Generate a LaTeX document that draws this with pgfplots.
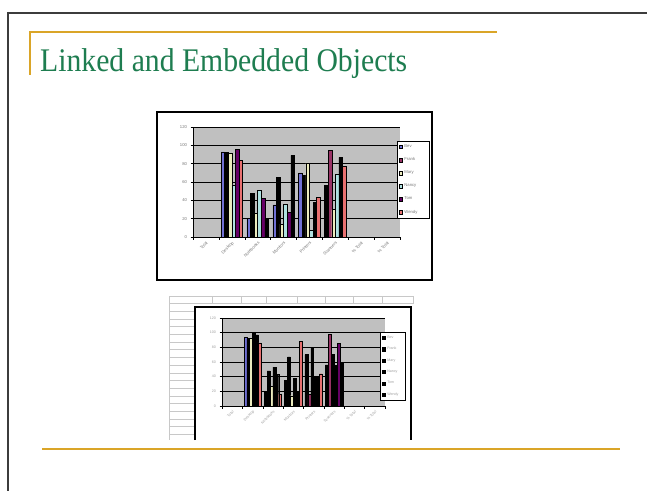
\documentclass[border=0pt]{standalone}
\usepackage{pgfplots}
\pgfplotsset{compat=1.18}
\usepackage{fontspec}
\setmainfont{Liberation Sans}
\newfontfamily\titlefont{Liberation Serif}
\definecolor{plotgray}{RGB}{192,192,192}
\definecolor{cBev}{RGB}{112,112,212}
\definecolor{cFrank}{RGB}{153,51,102}
\definecolor{cMary}{RGB}{236,236,190}
\definecolor{cNancy}{RGB}{175,225,225}
\definecolor{cTom}{RGB}{102,0,102}
\definecolor{cWendy}{RGB}{232,112,112}
\definecolor{titlegreen}{RGB}{30,125,80}
\definecolor{gold}{RGB}{218,165,40}
\definecolor{slideborder}{RGB}{60,60,60}
\definecolor{sheetgrid}{RGB}{200,200,200}
\definecolor{labgray}{RGB}{120,120,120}
\pgfplotsset{
  lg/.style={legend image code/.code={\draw[fill=#1,draw=black,line width=0.4pt] (0pt,-1.6pt) rectangle (3.2pt,1.6pt);}},
  P/.style 2 args={forget plot, bar shift=#1, fill=#2, draw=black, line width=0.4pt},
  excel/.style={
    ybar, scale only axis,
    xmin=-0.5, xmax=7.5, ymin=0, ymax=120,
    axis background/.style={fill=plotgray},
    axis x line*=bottom, axis y line*=left,
    axis line style={-, black, line width=0.8pt},
    ytick={0,20,...,120}, ymajorgrids,
    grid style={black, line width=0.6pt},
    xtick={-0.5,0.5,...,7.5},
    xticklabels={Total,Desktop,Notebooks,Monitors,Printers,Scanners,\% Total,\% Total,{}},
    tick align=outside, major tick length=2.5pt,
    tick style={black, line width=0.5pt},
    /pgf/number format/assume math mode=true,
    legend cell align=left,
  },
}
\newcommand{\LT}[1]{\makebox[22pt][l]{#1}}
\newcommand{\LB}[1]{\makebox[15pt][l]{#1}}
\begin{document}
\begin{tikzpicture}
\path[use as bounding box, fill=white] (0pt,0pt) rectangle (647pt,491pt);
% slide frame
\draw[slideborder, line width=2pt] (7pt,478pt) -- (647pt,478pt);
\draw[slideborder, line width=2pt] (8pt,479pt) -- (8pt,0pt);
% title decorations
\draw[gold, line width=1.3pt] (30pt,459pt) -- (497pt,459pt);
\draw[gold, line width=1.3pt] (30pt,459.6pt) -- (30pt,416pt);
\node[anchor=base west, inner sep=0pt, text=titlegreen] at (40pt,419pt)
  {\scalebox{0.9}[1]{\titlefont\fontsize{33}{36}\selectfont Linked and Embedded Objects}};
\draw[gold, line width=1.3pt] (42pt,42pt) -- (620pt,42pt);

% top chart frame
\draw[black, line width=1.2pt, fill=white] (157pt,211pt) rectangle (432pt,379pt);
\begin{axis}[excel, at={(193pt,254pt)}, anchor=south west, width=207pt, height=110pt, bar width=3.6pt,
  x tick label style={font=\fontsize{4.2}{4.5}\selectfont, text=labgray, xshift=12.9pt, rotate=45, anchor=north east, inner sep=1pt},
  y tick label style={font=\fontsize{4.2}{4.5}\selectfont, text=labgray},
  legend style={at={(0.985,0.873)}, anchor=north west, draw=black, line width=0.8pt, fill=white,
    font=\fontsize{4.2}{4.5}\selectfont, text=labgray, inner sep=1.5pt, row sep=4.6pt},
]
% Bev
\addplot[P={-9pt}{cBev}] coordinates {(1,93) (2,20) (3,35) (4,70)};
\addplot[P={-9pt}{black}] coordinates {(5,57)};
% Frank
\addplot[P={-5.4pt}{black}] coordinates {(1,92) (2,48) (3,65) (4,67)};
\addplot[P={-5.4pt}{cFrank}] coordinates {(5,95)};
% Mary
\addplot[P={-1.8pt}{cMary}] coordinates {(1,91) (2,26) (3,14) (4,81) (5,30)};
% Nancy
\addplot[P={1.8pt}{cNancy}] coordinates {(1,57) (2,51) (3,36) (4,7) (5,69)};
% Tom
\addplot[P={5.4pt}{cTom}] coordinates {(1,96) (2,42) (3,27)};
\addplot[P={5.4pt}{black}] coordinates {(4,38) (5,87)};
% Wendy
\addplot[P={9pt}{cWendy}] coordinates {(1,84) (4,43) (5,77)};
\addplot[P={9pt}{black}] coordinates {(2,20) (3,89)};
\addlegendimage{lg=cBev}\addlegendentry{\LT{Bev}}
\addlegendimage{lg=cFrank}\addlegendentry{\LT{Frank}}
\addlegendimage{lg=cMary}\addlegendentry{\LT{Mary}}
\addlegendimage{lg=cNancy}\addlegendentry{\LT{Nancy}}
\addlegendimage{lg=cTom}\addlegendentry{\LT{Tom}}
\addlegendimage{lg=cWendy}\addlegendentry{\LT{Wendy}}
\end{axis}

% spreadsheet grid behind the embedded chart
\foreach \k in {0,...,18} {
  \draw[sheetgrid, line width=1pt] (169pt,{(195-7.7*\k)*1pt}) -- (196pt,{(195-7.7*\k)*1pt});
}
\draw[sheetgrid, line width=1pt] (169pt,195pt) -- (413pt,195pt);
\draw[sheetgrid, line width=1pt] (169pt,187.3pt) -- (413pt,187.3pt);
\foreach \xx in {212,241,266,297,325,353,382,413} {
  \draw[sheetgrid, line width=1pt] (\xx pt,187.3pt) -- (\xx pt,195pt);
}
\draw[sheetgrid, line width=1pt] (169pt,195pt) -- (169pt,51pt);
% embedded chart box (cut off at the bottom)
\fill[white] (195pt,51pt) rectangle (411pt,184pt);
\draw[black, line width=1.6pt] (195pt,51pt) -- (195pt,184pt) -- (411pt,184pt) -- (411pt,51pt);

\begin{axis}[excel, at={(222pt,85pt)}, anchor=south west, width=163pt, height=88pt, bar width=2.9pt,
  x tick label style={font=\fontsize{3.6}{4}\selectfont, text=labgray!70, xshift=10.2pt, rotate=45, anchor=north east, inner sep=1pt},
  y tick label style={font=\fontsize{3.6}{4}\selectfont, text=labgray!70},
  legend style={at={(0.97,0.84)}, anchor=north west, draw=black, line width=0.8pt, fill=white,
    font=\fontsize{3.6}{4}\selectfont, text=labgray!70, inner sep=1.2pt, row sep=3.4pt},
]
% Bev
\addplot[P={-7.25pt}{cBev}] coordinates {(1,94)};
\addplot[P={-7.25pt}{black}] coordinates {(2,20) (3,35) (4,70) (5,56)};
% Frank
\addplot[P={-4.35pt}{black}] coordinates {(1,92) (2,48) (3,67)};
\addplot[P={-4.35pt}{cFrank}] coordinates {(4,16) (5,98)};
% Mary
\addplot[P={-1.45pt}{cMary}] coordinates {(1,93) (2,27) (3,14)};
\addplot[P={-1.45pt}{black}] coordinates {(4,80) (5,70)};
% Nancy
\addplot[P={1.45pt}{black}] coordinates {(1,100) (2,53) (3,38) (4,40) (5,55)};
% Tom
\addplot[P={4.35pt}{black}] coordinates {(1,97) (2,43) (3,20) (4,40)};
\addplot[P={4.35pt}{cTom}] coordinates {(5,85)};
% Wendy
\addplot[P={7.25pt}{cWendy}] coordinates {(1,86) (2,16) (3,88) (4,44)};
\addplot[P={7.25pt}{black}] coordinates {(5,60)};
\addlegendimage{lg=black}\addlegendentry{\LB{Bev}}
\addlegendimage{lg=black}\addlegendentry{\LB{Frank}}
\addlegendimage{lg=black}\addlegendentry{\LB{Mary}}
\addlegendimage{lg=black}\addlegendentry{\LB{Nancy}}
\addlegendimage{lg=black}\addlegendentry{\LB{Tom}}
\addlegendimage{lg=black}\addlegendentry{\LB{Wendy}}
\end{axis}
\end{tikzpicture}
\end{document}
